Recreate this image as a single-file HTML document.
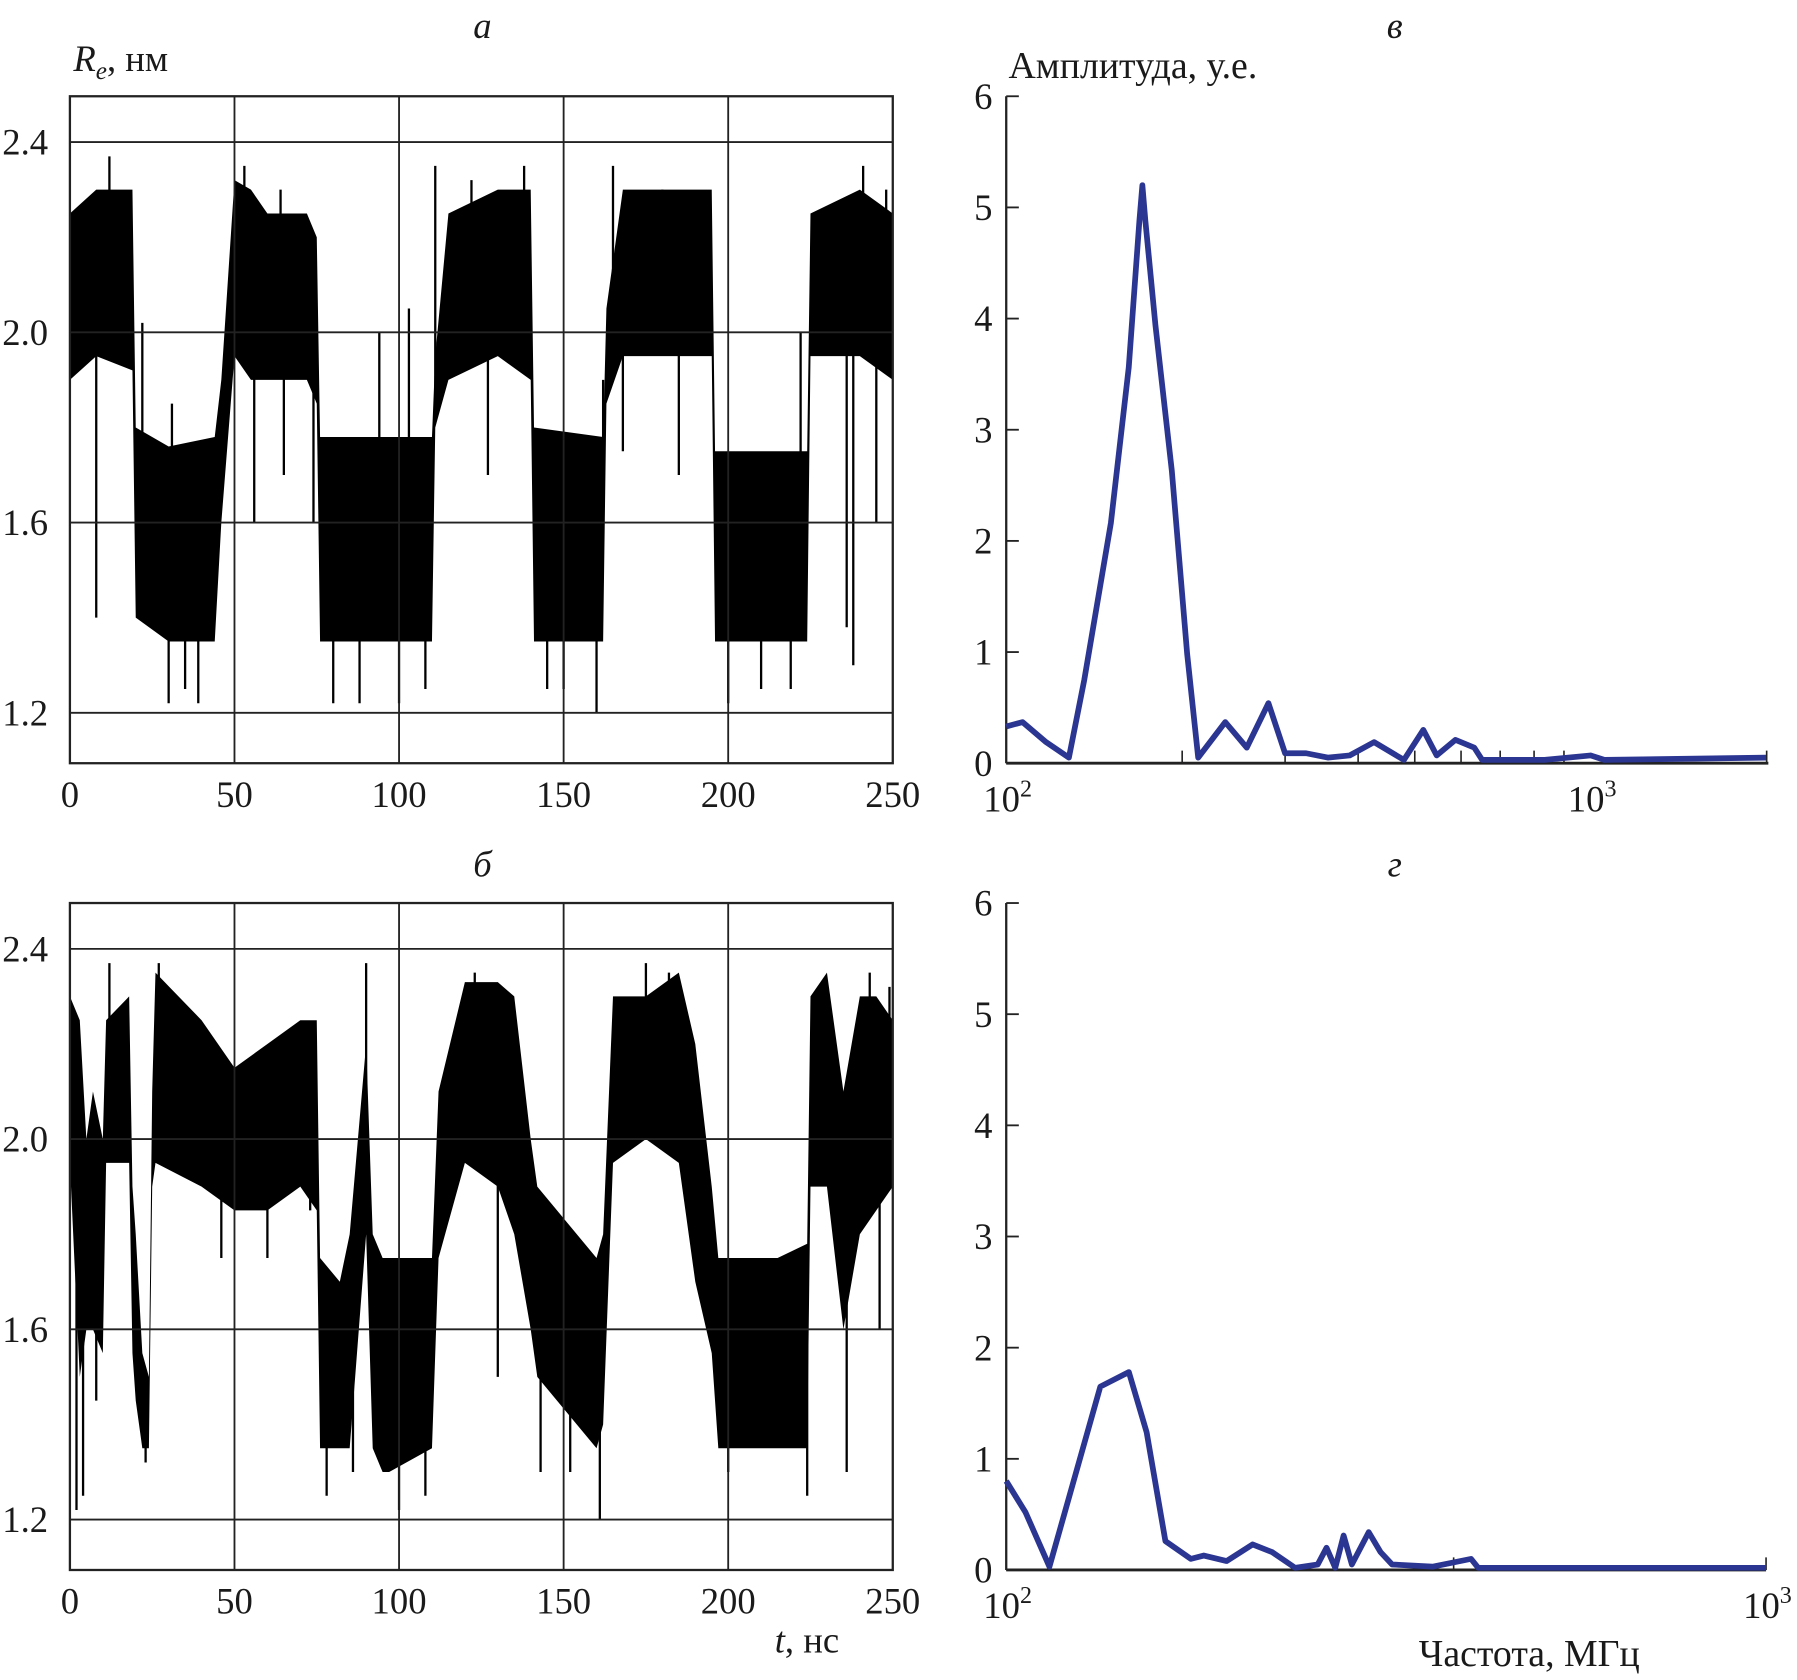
<!DOCTYPE html>
<html><head><meta charset="utf-8"><style>
html,body{margin:0;padding:0;background:#fff;}
svg{display:block;}
text{font-family:"Liberation Serif",serif;fill:#1a1a1a;}
</style></head><body>
<svg id="fig" width="1797" height="1680" viewBox="0 0 1568 1466" preserveAspectRatio="none" xmlns="http://www.w3.org/2000/svg">
<rect x="0" y="0" width="1568" height="1466" fill="#fff"/>
<g id="layer"></g>
</svg>
<script>
// ---- Panel a data (time series envelope, ns / nm) ----
const aTimes = [0,8,19,20,30,44,46,50,55,60,72,75,76,90,110,111,115,130,140,141,162,163,168,195,196,224,225,240,250];
const aUpper = [2.25,2.3,2.3,1.8,1.76,1.78,1.9,2.32,2.3,2.25,2.25,2.2,1.78,1.78,1.78,1.95,2.25,2.3,2.3,1.8,1.78,2.05,2.3,2.3,1.75,1.75,2.25,2.3,2.25];
const aLower = [1.9,1.95,1.92,1.4,1.35,1.35,1.6,1.95,1.9,1.9,1.9,1.85,1.35,1.35,1.35,1.8,1.9,1.95,1.9,1.35,1.35,1.85,1.95,1.95,1.35,1.35,1.95,1.95,1.9];
const aSpikeT = [8,12,22,30,35,39,31,53,56,65,64,74,80,88,94,100,103,108,111,122,127,138,145,150,160,162,165,168,180,185,200,210,219,222,236,238,241,245,248];
const aSpikeV = [1.4,2.37,2.02,1.22,1.25,1.22,1.85,2.35,1.6,1.7,2.3,1.6,1.22,1.22,2.0,1.22,2.05,1.25,2.35,2.32,1.7,2.35,1.25,1.25,1.2,1.9,2.35,1.75,2.3,1.7,1.22,1.25,1.25,2.0,1.38,1.3,2.35,1.6,2.3];
// ---- Panel b data ----
const bTimes = [0,3,5,7,10,11,18,19,20,22,24,25,26,40,50,60,70,75,76,82,85,90,92,95,97,110,112,120,130,135,140,142,160,162,165,175,185,190,195,197,215,224,225,230,235,240,245,250];
const bUpper = [2.3,2.25,2.0,2.1,2.0,2.25,2.3,1.9,1.8,1.55,1.5,2.1,2.35,2.25,2.15,2.2,2.25,2.25,1.75,1.7,1.8,2.2,1.8,1.75,1.75,1.75,2.1,2.33,2.33,2.3,2.0,1.9,1.75,1.8,2.3,2.3,2.35,2.2,1.9,1.75,1.75,1.78,2.3,2.35,2.1,2.3,2.3,2.25];
const bLower = [1.95,1.5,1.6,1.6,1.55,1.95,1.95,1.55,1.45,1.35,1.35,1.9,1.95,1.9,1.85,1.85,1.9,1.85,1.35,1.35,1.35,1.8,1.35,1.3,1.3,1.35,1.75,1.95,1.9,1.8,1.6,1.5,1.35,1.4,1.95,2.0,1.95,1.7,1.55,1.35,1.35,1.35,1.9,1.9,1.6,1.8,1.85,1.9];
const bSpikeT = [2,4,8,12,23,27,46,60,73,78,86,90,92,100,108,123,130,143,152,161,175,182,200,210,224,236,243,246,249];
const bSpikeV = [1.22,1.25,1.45,2.37,1.32,2.37,1.75,1.75,1.85,1.25,1.3,2.37,1.45,1.22,1.25,2.35,1.5,1.3,1.3,1.2,2.37,2.35,1.3,1.4,1.25,1.3,2.35,1.6,2.32];
// ---- Panel v spectrum (MHz, a.u.) ----
const vFreq = [100,106.6,117,128,136,151,162,169,171,173,180,192,204,213,237,258,281,300,326,355,387,426,479,517,545,587,632,652,834,1000,1055,1995];
const vAmp  = [0.33,0.37,0.19,0.05,0.75,2.16,3.56,4.88,5.2,4.88,3.94,2.63,0.98,0.05,0.37,0.14,0.54,0.09,0.09,0.05,0.07,0.19,0.03,0.3,0.07,0.21,0.14,0.03,0.03,0.07,0.03,0.05];
// ---- Panel g spectrum ----
const gFreq = [100,106,114,133,145,153,162,175,182,195,211,224,240,257,264,271,278,285,300,311,322,364,409,418,1000];
const gAmp  = [0.8,0.52,0.03,1.65,1.78,1.24,0.26,0.1,0.13,0.08,0.23,0.16,0.02,0.05,0.2,0.02,0.31,0.05,0.34,0.16,0.05,0.03,0.1,0.02,0.02];
const tTicks = [0,50,100,150,200,250];
const rTicks = ["2.4","2.0","1.6","1.2"];
const ampTicks = [0,1,2,3,4,5,6];

const NS="http://www.w3.org/2000/svg";
const layer=document.getElementById('layer');
const FS=32;
function mk(tag,attrs,parent){const e=document.createElementNS(NS,tag);for(const k in attrs)e.setAttribute(k,attrs[k]);(parent||layer).appendChild(e);return e;}
function txt(x,y,s,size,anchor,parent,italic){const t=mk('text',{x:x,y:y,'font-size':size,'text-anchor':anchor||'middle'},parent);if(italic)t.setAttribute('font-style','italic');t.textContent=s;return t;}

function timePanel(name,top,times,upper,lower,spT,spV){
  const g=mk('g',{});
  
  
  const x0=61,x1=779,bot=top+582;
  const xs=t=>x0+(t/250)*(x1-x0);
  const y24=top+40;
  const ys=v=>y24+(2.4-v)*415;
  let pts=[];
  for(let i=0;i<times.length;i++)pts.push(xs(times[i])+','+ys(upper[i]));
  for(let i=times.length-1;i>=0;i--)pts.push(xs(times[i])+','+ys(lower[i]));
  const band=mk('polygon',{points:pts.join(' '),fill:'#000'},g);
  
  
  for(let i=0;i<spT.length;i++){
    const t=spT[i];let k=0;while(k<times.length-2&&times[k+1]<t)k++;
    const f=(t-times[k])/(times[k+1]-times[k]);
    const mid=((upper[k]+lower[k])/2)*(1-f)+((upper[k+1]+lower[k+1])/2)*f;
    const l=mk('line',{x1:xs(t),x2:xs(t),y1:ys(mid),y2:ys(spV[i]),stroke:'#000','stroke-width':2},g);
    
    
  }
  rTicks.forEach(s=>{const v=parseFloat(s);mk('line',{x1:x0,x2:x1,y1:ys(v),y2:ys(v),stroke:'#222','stroke-width':1.6},g);
    const lb=txt(2,ys(v)+11,s,FS,'start',g);
    
    });
  tTicks.forEach(t=>{if(t>0&&t<250)mk('line',{x1:xs(t),x2:xs(t),y1:top,y2:bot,stroke:'#222','stroke-width':1.6},g);
    const lb=txt(xs(t),bot+38,String(t),FS,'middle',g);
    
    });
  mk('rect',{x:x0,y:top,width:x1-x0,height:bot-top,fill:'none',stroke:'#222','stroke-width':2},g);
}

function specPanel(name,top,decadePx,xEndPx,freq,amp,minor,labels){
  const g=mk('g',{});
  
  
  const x0=878,bot=top+582,unit=(bot-top)/6;
  const xs=f=>x0+Math.log10(f/100)*decadePx;
  const ys=a=>bot-a*unit;
  mk('line',{x1:x0,x2:x0,y1:top,y2:bot,stroke:'#222','stroke-width':2},g);
  mk('line',{x1:x0,x2:xEndPx,y1:bot,y2:bot,stroke:'#222','stroke-width':2.5},g);
  ampTicks.forEach(a=>{mk('line',{x1:x0,x2:x0+11,y1:ys(a),y2:ys(a),stroke:'#222','stroke-width':1.6},g);
    const lb=txt(858,ys(a)+11,String(a),FS,'middle',g);
    
    });
  minor.forEach(f=>mk('line',{x1:xs(f),x2:xs(f),y1:bot,y2:bot-11,stroke:'#222','stroke-width':1.4},g));
  labels.forEach(p=>{const t=mk('text',{x:xs(p[0])-20,y:bot+42,'font-size':FS,'text-anchor':'start'},g);
    
    
    t.textContent='10';const s=mk('tspan',{dy:-13,'font-size':21},t);s.textContent=p[1];});
  const d=freq.map((f,i)=>(i?'L':'M')+xs(f).toFixed(1)+','+ys(amp[i]).toFixed(1)).join(' ');
  const line=mk('path',{d:d,fill:'none',stroke:'#2b3592','stroke-width':5,'stroke-linejoin':'round'},g);
  
  
}

timePanel('panel-a-chart',84,aTimes,aUpper,aLower,aSpikeT,aSpikeV);
timePanel('panel-b-chart',788,bTimes,bUpper,bLower,bSpikeT,bSpikeV);
specPanel('panel-v-chart',84,510,1543,vFreq,vAmp,[200,300,400,500,600,700,800,900,2000],[[100,'2'],[1000,'3']]);
specPanel('panel-g-chart',788,663,1541,gFreq,gAmp,[388,1000],[[100,'2'],[1000,'3']]);

let t;
t=txt(421,33,'а',FS,'middle',null,true);
t=txt(421,765,'б',FS,'middle',null,true);
t=txt(1217,33,'в',FS,'middle',null,true);
t=txt(1217,765,'г',FS,'middle',null,true);
t=mk('text',{x:64,y:62,'font-size':FS});
(function(){const a=mk('tspan',{'font-style':'italic'},t);a.textContent='R';const b=mk('tspan',{'font-style':'italic','font-size':22,dy:7},t);b.textContent='e';const c=mk('tspan',{dy:-7},t);c.textContent=', нм';})();
t=txt(880,68,'Амплитуда, у.е.',33,'start');
t=mk('text',{x:676,y:1442,'font-size':FS});
(function(){const a=mk('tspan',{'font-style':'italic'},t);a.textContent='t';const c=mk('tspan',{},t);c.textContent=', нс';})();
t=txt(1238,1454,'Частота, МГц',33,'start');
</script>
</body></html>
